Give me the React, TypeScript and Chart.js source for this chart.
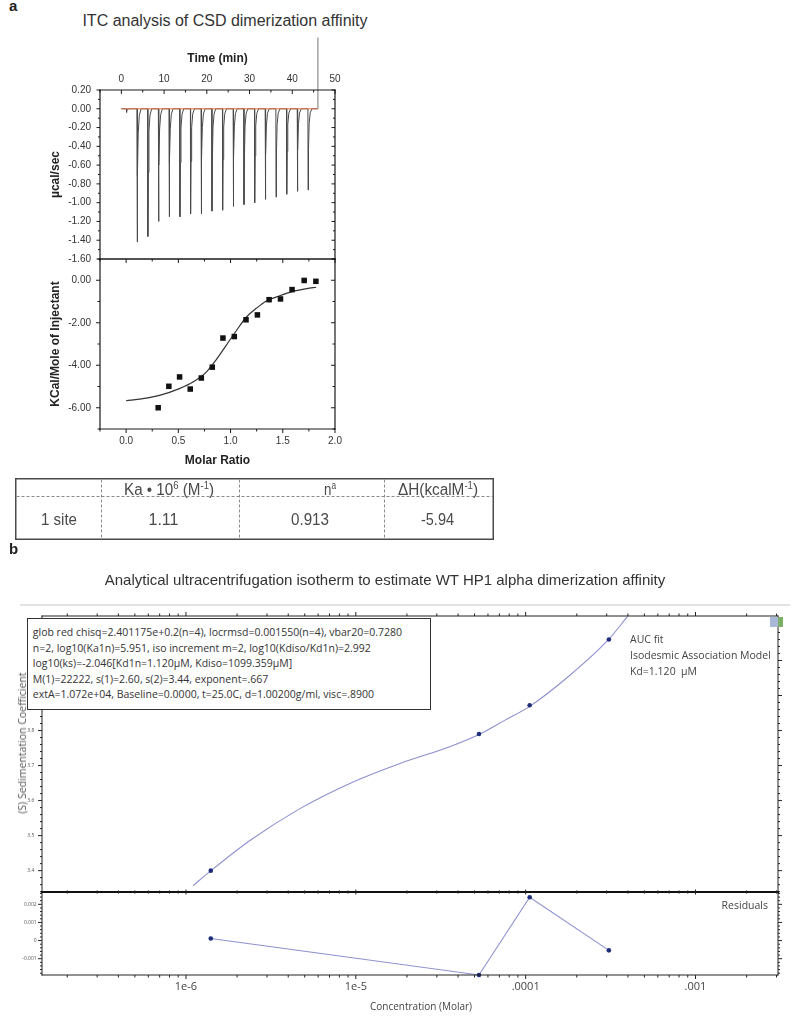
import React, { useEffect, useRef } from 'react';
import { Chart, registerables } from 'chart.js';

Chart.register(...registerables);

const ARIAL = "'Liberation Sans', Arial, Helvetica, sans-serif";
const HUMAN = "'Open Sans', 'Noto Sans', sans-serif";

// ---------- Panel a: raw ITC thermogram ----------
const injectionTimes = [1.2, 3.7, 6.2, 8.7, 11.2, 13.7, 16.2, 18.7, 21.2, 23.7, 26.2, 28.7, 31.2, 33.7, 36.2, 38.7, 41.2, 43.7];
const injectionPeaks = [-0.04, -1.42, -1.36, -1.2, -1.15, -1.15, -1.12, -1.12, -1.09, -1.08, -1.04, -1.02, -1.0, -0.965, -0.94, -0.91, -0.88, -0.865];
const spikeOffsets = [-0.04, 0, 0.1, 0.25, 0.5, 0.9];
const spikeFractions = [0, 1, 0.5, 0.18, 0.05, 0];
const traceStartEnd = [0, 46];
const baselineTimes = [0, 46];
const baselineValues = [0, 0];
const exitTimes = [46, 46];
const exitValues = [0, 0.76];
const timeTicks = [0, 10, 20, 30, 40, 50];
const timeMinorTicks = [-5, 5, 15, 25, 35, 45];
const powerTicks = [0.2, 0, -0.2, -0.4, -0.6, -0.8, -1.0, -1.2, -1.4, -1.6];
const powerMinorTicks = [0.1, -0.1, -0.3, -0.5, -0.7, -0.9, -1.1, -1.3, -1.5];

// ---------- Panel a: integrated heats ----------
const molarRatio = [0.307, 0.409, 0.512, 0.614, 0.72, 0.825, 0.927, 1.036, 1.148, 1.257, 1.369, 1.478, 1.589, 1.705, 1.817];
const heats = [-6.0, -4.99, -4.55, -5.12, -4.6, -4.09, -2.72, -2.65, -1.86, -1.63, -0.915, -0.88, -0.44, -0.01, -0.05];
const fitRatio = [0.0, 0.15, 0.32, 0.51, 0.64, 0.77, 0.86, 0.96, 1.06, 1.15, 1.25, 1.34, 1.47, 1.6, 1.73, 1.82];
const fitHeat = [-5.67, -5.58, -5.42, -5.1, -4.79, -4.31, -3.76, -3.05, -2.34, -1.74, -1.31, -0.99, -0.73, -0.52, -0.39, -0.33];
const molarTicks = [0, 0.5, 1.0, 1.5, 2.0];
const molarMinorTicks = [-0.25, 0.25, 0.75, 1.25, 1.75];
const heatTicks = [0, -2, -4, -6];
const heatMinorTicks = [1, -1, -3, -5, -7];

// ---------- Table ----------
const tableRow = ['1 site', '1.11', '0.913', '-5.94'];

// ---------- Panel b: AUC isotherm ----------
const aucConc = [1.4e-6, 5.31e-5, 1.056e-4, 3.09e-4];
const aucS = [3.4, 3.79, 3.872, 4.06];
const aucResiduals = [0.00011, -0.0019, 0.00239, -0.00054];
const aucFitConc = [1.1e-6, 1.38e-6, 2.38e-6, 4.69e-6, 9.22e-6, 1.82e-5, 3.57e-5, 5.43e-5, 7.52e-5, 1.056e-4, 1.815e-4, 3.08e-4, 3.98e-4];
const aucFitS = [3.357, 3.397, 3.486, 3.577, 3.649, 3.706, 3.754, 3.791, 3.829, 3.869, 3.957, 4.06, 4.126];
const concTicks = [1e-6, 1e-5, 1e-4, 1e-3];
const concTickLabels = ['1e-6', '1e-5', '.0001', '.001'];
const sTicks = [3.4, 3.5, 3.6, 3.7, 3.8, 3.9, 4.0, 4.1];
const residualTicks = [-0.001, 0, 0.001, 0.002];
const boxLines = [
  'glob red chisq=2.401175e+0.2(n=4), locrmsd=0.001550(n=4), vbar20=0.7280',
  'n=2, log10(Ka1n)=5.951, iso increment m=2, log10(Kdiso/Kd1n)=2.992',
  'log10(ks)=-2.046[Kd1n=1.120\u00b5M, Kdiso=1099.359\u00b5M]',
  'M(1)=22222, s(1)=2.60, s(2)=3.44, exponent=.667',
  'extA=1.072e+04, Baseline=0.0000, t=25.0C, d=1.00200g/ml, visc=.8900',
];
const legendLines = ['AUC fit', 'Isodesmic Association Model', 'Kd=1.120  \u00b5M'];

const CONC_MIN = 1.42e-7;
const CONC_MAX = 3.06e-3;

// minor tick helpers (tick generation only)
function linMinor(lo: number, hi: number, step: number, majorStep: number): number[] {
  const out: number[] = [];
  const k0 = Math.ceil(lo / step - 1e-9);
  const k1 = Math.floor(hi / step + 1e-9);
  for (let k = k0; k <= k1; k++) {
    const v = k * step;
    const r = v / majorStep;
    if (Math.abs(r - Math.round(r)) > 1e-6) out.push(v);
  }
  return out;
}
function logMinor(lo: number, hi: number): number[] {
  const out: number[] = [];
  for (let e = -8; e <= -1; e++) {
    for (let m = 2; m <= 9; m++) {
      const v = m * Math.pow(10, e);
      if (v >= lo && v <= hi) out.push(v);
    }
  }
  return out;
}

type Side = 'top' | 'bottom' | 'left' | 'right';
interface TickSet { side: Side; axis: string; major: number[]; minor: number[]; majorLen: number; minorLen: number; dir: 'in' | 'out' | 'both'; }
interface FrameSpec { lines: { side: Side; width: number; color: string }[]; ticks: TickSet[]; tickColor: string; tickWidth: number; }

function framePlugin(spec: FrameSpec) {
  return {
    id: 'frameTicks',
    afterDatasetsDraw(chart: any) {
      const { ctx, chartArea: a } = chart;
      ctx.save();
      for (const l of spec.lines) {
        ctx.strokeStyle = l.color;
        ctx.lineWidth = l.width;
        ctx.beginPath();
        const e = l.width / 2;
        if (l.side === 'top') { ctx.moveTo(a.left - e, a.top); ctx.lineTo(a.right + e, a.top); }
        if (l.side === 'bottom') { ctx.moveTo(a.left - e, a.bottom); ctx.lineTo(a.right + e, a.bottom); }
        if (l.side === 'left') { ctx.moveTo(a.left, a.top - e); ctx.lineTo(a.left, a.bottom + e); }
        if (l.side === 'right') { ctx.moveTo(a.right, a.top - e); ctx.lineTo(a.right, a.bottom + e); }
        ctx.stroke();
      }
      ctx.strokeStyle = spec.tickColor;
      ctx.lineWidth = spec.tickWidth;
      for (const t of spec.ticks) {
        const s = chart.scales[t.axis];
        const draw = (v: number, len: number) => {
          const p = s.getPixelForValue(v);
          const horiz = t.side === 'top' || t.side === 'bottom';
          if (horiz && (p < a.left - 0.5 || p > a.right + 0.5)) return;
          if (!horiz && (p < a.top - 0.5 || p > a.bottom + 0.5)) return;
          let o1 = 0, o2 = len;
          if (t.dir === 'in') { o1 = 0; o2 = -len; }
          if (t.dir === 'both') { o1 = -len; o2 = len; }
          ctx.beginPath();
          if (t.side === 'top') { ctx.moveTo(p, a.top - o1); ctx.lineTo(p, a.top - o2); }
          if (t.side === 'bottom') { ctx.moveTo(p, a.bottom + o1); ctx.lineTo(p, a.bottom + o2); }
          if (t.side === 'left') { ctx.moveTo(a.left - o1, p); ctx.lineTo(a.left - o2, p); }
          if (t.side === 'right') { ctx.moveTo(a.right + o1, p); ctx.lineTo(a.right + o2, p); }
          ctx.stroke();
        };
        t.major.forEach((v) => draw(v, t.majorLen));
        t.minor.forEach((v) => draw(v, t.minorLen));
      }
      ctx.restore();
    },
  };
}

const noGrid = { display: false, drawTicks: false };
const noBorder = { display: false };
const quiet = { legend: { display: false }, tooltip: { enabled: false } };
const setTicks = (vals: number[]) => (s: any) => { s.ticks = vals.map((v) => ({ value: v })); };
// force an exact axis box size and stop label overflow from moving the plot area
const fixWidth = (w: number) => (s: any) => { s.width = w; s.paddingTop = 0; s.paddingBottom = 0; s.paddingLeft = 0; s.paddingRight = 0; };
const fixHeight = (h: number) => (s: any) => { s.height = h; s.paddingTop = 0; s.paddingBottom = 0; s.paddingLeft = 0; s.paddingRight = 0; };

function buildTrace() {
  const pts: { x: number; y: number }[] = [{ x: traceStartEnd[0], y: 0 }];
  injectionTimes.forEach((t, i) => {
    spikeOffsets.forEach((dt, j) => pts.push({ x: t + dt, y: injectionPeaks[i] * spikeFractions[j] }));
  });
  pts.push({ x: traceStartEnd[1], y: 0 });
  return pts;
}
const zip = (xs: number[], ys: number[]) => xs.map((x, i) => ({ x, y: ys[i] }));

function rawConfig(): any {
  return {
    type: 'scatter',
    data: {
      datasets: [
        { data: zip(baselineTimes, baselineValues), showLine: true, borderColor: '#e2714f', borderWidth: 1, pointRadius: 0 },
        { data: buildTrace(), showLine: true, borderColor: '#4a4a4a', borderWidth: 1, pointRadius: 0 },
        { data: zip(exitTimes, exitValues), showLine: true, borderColor: '#8c8c8c', borderWidth: 1.2, pointRadius: 0, clip: false },
      ],
    },
    options: {
      responsive: false, animation: false, devicePixelRatio: 1,
      layout: { padding: { top: 0, right: 15, bottom: 3, left: 0 } },
      plugins: quiet,
      scales: {
        x: {
          type: 'linear', position: 'top', min: -5, max: 50, grid: noGrid, border: noBorder,
          afterBuildTicks: setTicks(timeTicks), afterFit: fixHeight(60),
          ticks: { autoSkip: false, maxRotation: 0, padding: 5, color: '#333', font: { family: ARIAL, size: 10 }, callback: (v: number) => String(v) },
          title: { display: true, text: 'Time (min)', color: '#222', font: { family: ARIAL, size: 12, weight: 'bold' }, padding: { top: 21.8, bottom: 0 } },
        },
        y: {
          type: 'linear', min: -1.6, max: 0.2, grid: noGrid, border: noBorder,
          afterBuildTicks: setTicks(powerTicks), afterFit: fixWidth(80),
          ticks: { autoSkip: false, padding: 9, color: '#333', font: { family: ARIAL, size: 10 }, callback: (v: number) => v.toFixed(2) },
          title: { display: true, text: '\u00b5cal/sec', color: '#222', font: { family: ARIAL, size: 12, weight: 'bold' }, padding: { top: 28.8, bottom: 0 } },
        },
      },
    },
    plugins: [framePlugin({
      lines: (['top', 'bottom', 'left', 'right'] as Side[]).map((side) => ({ side, width: 1.2, color: '#1a1a1a' })),
      tickColor: '#1a1a1a', tickWidth: 1,
      ticks: [
        { side: 'top', axis: 'x', major: timeTicks, minor: timeMinorTicks, majorLen: 4, minorLen: 2.5, dir: 'in' },
        { side: 'left', axis: 'y', major: powerTicks, minor: powerMinorTicks, majorLen: 3.5, minorLen: 2, dir: 'out' },
        { side: 'right', axis: 'y', major: powerTicks, minor: powerMinorTicks, majorLen: 3.5, minorLen: 2, dir: 'in' },
      ],
    })],
  };
}

function heatConfig(): any {
  return {
    type: 'scatter',
    data: {
      datasets: [
        { data: zip(molarRatio, heats), pointStyle: 'rect', pointRadius: 3.9, backgroundColor: '#111', borderColor: '#111', borderWidth: 0 },
        { data: zip(fitRatio, fitHeat), showLine: true, borderColor: '#333', borderWidth: 1.2, pointRadius: 0, cubicInterpolationMode: 'monotone' },
      ],
    },
    options: {
      responsive: false, animation: false, devicePixelRatio: 1,
      layout: { padding: { top: 9, right: 15, bottom: 0, left: 0 } },
      plugins: quiet,
      scales: {
        x: {
          type: 'linear', position: 'bottom', min: -0.25, max: 2.0, grid: noGrid, border: noBorder,
          afterBuildTicks: setTicks(molarTicks), afterFit: fixHeight(52),
          ticks: { autoSkip: false, maxRotation: 0, padding: 6.7, color: '#333', font: { family: ARIAL, size: 10 }, callback: (v: number) => v.toFixed(1) },
          title: { display: true, text: 'Molar Ratio', color: '#222', font: { family: ARIAL, size: 12, weight: 'bold' }, padding: { top: 0, bottom: 12.8 } },
        },
        y: {
          type: 'linear', min: -7, max: 1, grid: noGrid, border: noBorder,
          afterBuildTicks: setTicks(heatTicks), afterFit: fixWidth(80),
          ticks: { autoSkip: false, padding: 9, color: '#333', font: { family: ARIAL, size: 10 }, callback: (v: number) => v.toFixed(2) },
          title: { display: true, text: 'KCal/Mole of Injectant', color: '#222', font: { family: ARIAL, size: 12, weight: 'bold' }, padding: { top: 28.8, bottom: 0 } },
        },
      },
    },
    plugins: [framePlugin({
      lines: (['top', 'bottom', 'left', 'right'] as Side[]).map((side) => ({ side, width: 1.2, color: '#1a1a1a' })),
      tickColor: '#1a1a1a', tickWidth: 1,
      ticks: [
        { side: 'top', axis: 'x', major: molarTicks, minor: molarMinorTicks, majorLen: 4, minorLen: 2.5, dir: 'in' },
        { side: 'bottom', axis: 'x', major: molarTicks, minor: molarMinorTicks, majorLen: 4, minorLen: 2.5, dir: 'out' },
        { side: 'left', axis: 'y', major: heatTicks, minor: heatMinorTicks, majorLen: 4, minorLen: 2.5, dir: 'out' },
        { side: 'right', axis: 'y', major: heatTicks, minor: heatMinorTicks, majorLen: 4, minorLen: 2.5, dir: 'in' },
      ],
    })],
  };
}

const concMinor = logMinor(CONC_MIN, CONC_MAX);

function aucConfig(): any {
  const sMinor = linMinor(3.339, 4.127, 0.02, 0.1);
  return {
    type: 'scatter',
    data: {
      datasets: [
        { data: zip(aucConc, aucS), pointRadius: 2.3, backgroundColor: '#1f2d7a', borderWidth: 0 },
        { data: zip(aucFitConc, aucFitS), showLine: true, borderColor: '#8d90cf', borderWidth: 1.1, pointRadius: 0, cubicInterpolationMode: 'monotone' },
      ],
    },
    options: {
      responsive: false, animation: false, devicePixelRatio: 1,
      layout: { padding: { top: 16, right: 22, bottom: 8, left: 0 } },
      plugins: quiet,
      scales: {
        x: { type: 'logarithmic', display: false, min: CONC_MIN, max: CONC_MAX },
        y: {
          type: 'linear', min: 3.339, max: 4.127, grid: noGrid, border: noBorder,
          afterBuildTicks: setTicks(sTicks), afterFit: fixWidth(42),
          ticks: { autoSkip: false, padding: 7.7, color: '#555', font: { family: HUMAN, size: 5 }, callback: (v: number) => v.toFixed(1) },
        },
      },
    },
    plugins: [framePlugin({
      lines: [
        { side: 'top', width: 1, color: '#222' },
        { side: 'left', width: 1, color: '#222' },
        { side: 'right', width: 1, color: '#222' },
        { side: 'bottom', width: 2, color: '#111' },
      ],
      tickColor: '#222', tickWidth: 1,
      ticks: [
        { side: 'top', axis: 'x', major: concTicks, minor: concMinor, majorLen: 4, minorLen: 2.5, dir: 'out' },
        { side: 'left', axis: 'y', major: sTicks, minor: sMinor, majorLen: 4, minorLen: 2, dir: 'out' },
        { side: 'right', axis: 'y', major: sTicks, minor: sMinor, majorLen: 4, minorLen: 2, dir: 'out' },
      ],
    })],
  };
}

function residualConfig(): any {
  const rMinor = linMinor(-0.0019, 0.00268, 0.0002, 0.001);
  return {
    type: 'scatter',
    data: {
      datasets: [
        { data: zip(aucConc, aucResiduals), showLine: true, borderColor: '#8d90cf', borderWidth: 1.1, pointRadius: 2.3, pointBackgroundColor: '#1f2d7a', pointBorderWidth: 0, clip: false },
      ],
    },
    options: {
      responsive: false, animation: false, devicePixelRatio: 1,
      layout: { padding: { top: 12, right: 22, bottom: 0, left: 0 } },
      plugins: quiet,
      scales: {
        x: {
          type: 'logarithmic', position: 'bottom', min: CONC_MIN, max: CONC_MAX, grid: noGrid, border: noBorder,
          afterBuildTicks: setTicks(concTicks), afterFit: fixHeight(42),
          ticks: {
            autoSkip: false, maxRotation: 0, padding: 5.1, color: '#444', font: { family: HUMAN, size: 11 },
            callback: (v: number) => { const i = concTicks.findIndex((c) => Math.abs(c - v) / c < 1e-6); return i >= 0 ? concTickLabels[i] : ''; },
          },
        },
        y: {
          type: 'linear', min: -0.0019, max: 0.00268, grid: noGrid, border: noBorder,
          afterBuildTicks: setTicks(residualTicks), afterFit: fixWidth(42),
          ticks: { autoSkip: false, padding: 5.3, color: '#555', font: { family: HUMAN, size: 5 }, callback: (v: number) => (Math.abs(v) < 1e-9 ? '0' : v.toFixed(3)) },
        },
      },
    },
    plugins: [framePlugin({
      lines: [
        { side: 'top', width: 2, color: '#111' },
        { side: 'left', width: 1, color: '#222' },
        { side: 'right', width: 1, color: '#222' },
        { side: 'bottom', width: 1, color: '#222' },
      ],
      tickColor: '#222', tickWidth: 1,
      ticks: [
        { side: 'top', axis: 'x', major: concTicks, minor: concMinor, majorLen: 2.5, minorLen: 1.6, dir: 'both' },
        { side: 'bottom', axis: 'x', major: concTicks, minor: concMinor, majorLen: 4, minorLen: 2.5, dir: 'out' },
        { side: 'left', axis: 'y', major: residualTicks, minor: rMinor, majorLen: 4, minorLen: 2, dir: 'out' },
        { side: 'right', axis: 'y', major: residualTicks, minor: rMinor, majorLen: 4, minorLen: 2, dir: 'out' },
      ],
    })],
  };
}

function ChartBox({ left, top, width, height, make }: { left: number; top: number; width: number; height: number; make: () => any }) {
  const ref = useRef<HTMLCanvasElement | null>(null);
  useEffect(() => {
    const chart = new Chart(ref.current as HTMLCanvasElement, make());
    return () => chart.destroy();
  }, []);
  return <canvas ref={ref} width={width} height={height} style={{ position: 'absolute', left, top, width, height }} />;
}

function Table() {
  const txt = { fontFamily: ARIAL, fontSize: 16, fill: '#4a4a4a', textAnchor: 'middle' as const, lengthAdjust: 'spacingAndGlyphs' as const };
  const cols = [59, 163.5, 310, 437.5];
  const widths = [36, 30, 38, 33];
  return (
    <svg width={800} height={560} style={{ position: 'absolute', left: 0, top: 0, pointerEvents: 'none' }}>
      <rect x={15.75} y={478.75} width={477.5} height={60.5} fill="none" stroke="#4a4a4a" strokeWidth={1.5} />
      <line x1={16.5} y1={496.5} x2={493} y2={496.5} stroke="#8a8a8a" strokeWidth={1} strokeDasharray="3 2" />
      {[101.5, 239.5, 384.5].map((x) => (
        <line key={x} x1={x} y1={479.5} x2={x} y2={538.5} stroke="#8a8a8a" strokeWidth={1} strokeDasharray="3 2" />
      ))}
      <text x={169} y={495} textLength={90} {...txt}>
        Ka • 10<tspan dy={-6} fontSize={10}>6</tspan><tspan dy={6}> (M</tspan><tspan dy={-6} fontSize={10}>-1</tspan><tspan dy={6}>)</tspan>
      </text>
      <text x={330} y={495} textLength={12} {...txt}>
        n<tspan dy={-6} fontSize={10}>a</tspan>
      </text>
      <text x={438} y={495} textLength={80} {...txt}>
        ΔH(kcalM<tspan dy={-6} fontSize={10}>-1</tspan><tspan dy={6}>)</tspan>
      </text>
      {tableRow.map((t, i) => (
        <text key={i} x={cols[i]} y={525} textLength={widths[i]} {...txt}>{t}</text>
      ))}
    </svg>
  );
}

export default function App() {
  return (
    <div style={{ position: 'absolute', left: 0, top: 0, width: 800, height: 1017, overflow: 'hidden', background: '#fff' }}>
      <div style={{ position: 'absolute', left: 9, top: -2.5, fontFamily: ARIAL, fontSize: 15, lineHeight: '15px', fontWeight: 'bold', color: '#222' }}>a</div>
      <div style={{ position: 'absolute', left: 25, width: 400, top: 12.3, textAlign: 'center', fontFamily: ARIAL, fontSize: 16, lineHeight: '18px', color: '#333', whiteSpace: 'nowrap' }}>
        ITC analysis of CSD dimerization affinity
      </div>
      <ChartBox left={20} top={30} width={330} height={232} make={rawConfig} />
      <ChartBox left={20} top={250} width={330} height={231} make={heatConfig} />
      <Table />

      <div style={{ position: 'absolute', left: 9, top: 540.5, fontFamily: ARIAL, fontSize: 15, lineHeight: '15px', fontWeight: 'bold', color: '#222' }}>b</div>
      <div style={{ position: 'absolute', left: 0, width: 770, top: 571, textAlign: 'center', fontFamily: ARIAL, fontSize: 15, lineHeight: '18px', color: '#333', whiteSpace: 'nowrap' }}>
        Analytical ultracentrifugation isotherm to estimate WT HP1 alpha dimerization affinity
      </div>
      <div style={{ position: 'absolute', left: 20, top: 604, width: 770, height: 2, background: '#e3e3e3' }} />
      <ChartBox left={0} top={600} width={800} height={300} make={aucConfig} />
      <ChartBox left={0} top={880} width={800} height={137} make={residualConfig} />

      <div style={{ position: 'absolute', left: 27, top: 617.7, width: 404, height: 92.3, boxSizing: 'border-box', border: '1.5px solid #333', background: '#fff', padding: '6.3px 0 0 4.8px', fontFamily: HUMAN, fontSize: 10.5, lineHeight: '15.6px', color: '#333', whiteSpace: 'nowrap' }}>
        {boxLines.map((l, i) => <div key={i}>{l}</div>)}
      </div>
      <div style={{ position: 'absolute', left: 22, top: 743, transform: 'translate(-50%, -50%) rotate(-90deg)', fontFamily: HUMAN, fontSize: 10.5, color: '#555', whiteSpace: 'nowrap' }}>
        (S) Sedimentation Coefficient
      </div>
      <div style={{ position: 'absolute', left: 421, top: 1006, transform: 'translate(-50%, -50%)', fontFamily: HUMAN, fontSize: 10, color: '#444', whiteSpace: 'nowrap' }}>
        Concentration (Molar)
      </div>
      <div style={{ position: 'absolute', left: 630, top: 632, fontFamily: HUMAN, fontSize: 10.5, lineHeight: '15.8px', color: '#444', whiteSpace: 'pre' }}>
        {legendLines.map((l, i) => <div key={i}>{l}</div>)}
      </div>
      <div style={{ position: 'absolute', left: 770, top: 617, width: 13, height: 10, background: 'linear-gradient(90deg, #a9b8d6 62%, #7cae68 62%)' }} />
      <div style={{ position: 'absolute', right: 32, top: 897, fontFamily: HUMAN, fontSize: 10.5, lineHeight: '16px', color: '#444' }}>Residuals</div>
    </div>
  );
}
